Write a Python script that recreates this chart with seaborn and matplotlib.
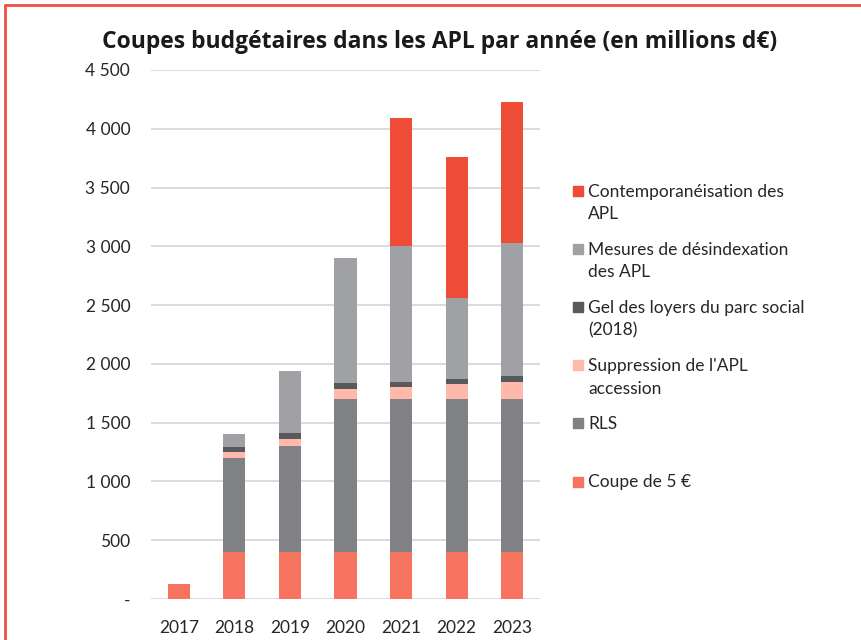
import matplotlib
matplotlib.use("Agg")
import matplotlib.pyplot as plt
import seaborn as sns
import numpy as np
import pandas as pd
from matplotlib.patches import Rectangle
from matplotlib.lines import Line2D

years = ["2017", "2018", "2019", "2020", "2021", "2022", "2023"]
coupe_5 = [125, 400, 400, 400, 400, 400, 400]
rls = [0, 800, 900, 1300, 1300, 1300, 1300]
suppression_accession = [0, 50, 65, 90, 105, 125, 150]
gel_loyers = [0, 45, 50, 45, 45, 45, 45]
desindexation = [0, 105, 525, 1065, 1150, 690, 1135]
contemporaneisation = [0, 0, 0, 0, 1090, 1200, 1200]

series_names = ["Coupe de 5 €", "RLS", "Suppression de l'APL\naccession",
                "Gel des loyers du parc social\n(2018)",
                "Mesures de désindexation\ndes APL",
                "Contemporanéisation des\nAPL"]
series_values = [coupe_5, rls, suppression_accession, gel_loyers,
                 desindexation, contemporaneisation]
colors = ["#F6735F", "#808184", "#FFB9AB", "#58595B", "#A0A1A4", "#EF4C37"]

yticks = [0, 500, 1000, 1500, 2000, 2500, 3000, 3500, 4000, 4500]
ytick_labels = ["-", "500", "1 000", "1 500", "2 000", "2 500", "3 000",
                "3 500", "4 000", "4 500"]

sns.set_theme(style="white")
plt.rcParams['font.family'] = ['Lato', 'DejaVu Sans']

fig = plt.figure(figsize=(8.62, 6.40), dpi=100)
ax = fig.add_axes([151/862, 1-599/640, (540-151)/862, (599-70)/640])

for yv in yticks:
    ax.axhline(yv, color="#d9d9d9", lw=1.3, zorder=0)

bottom = np.zeros(len(years))
for name, vals, c in zip(series_names, series_values, colors):
    df = pd.DataFrame({"year": years, "value": vals})
    sns.barplot(data=df, x="year", y="value", order=years, color=c,
                width=0.4, bottom=bottom.copy(), ax=ax, linewidth=0,
                saturation=1, errorbar=None, zorder=2)
    bottom += np.array(vals, dtype=float)

ax.set_xlim(-0.5, 6.5)
ax.set_ylim(0, 4500)
ax.set_yticks(yticks)
ax.set_yticklabels(ytick_labels)
ax.set_xlabel("")
ax.set_ylabel("")
for s in ax.spines.values():
    s.set_visible(False)
ax.tick_params(axis="both", length=0, labelsize=12.5, colors="#262626")
ax.tick_params(axis="y", pad=15)
ax.tick_params(axis="x", pad=15)

fig.text(440/862, 1-42/640, "Coupes budgétaires dans les APL par année (en millions d€)",
         ha="center", va="center", fontsize=16.5, fontweight="bold",
         family=["Open Sans", "DejaVu Sans"], color="#1a1a1a")

# Legend (top to bottom)
y0 = 190.5
step = 58.2
for i, idx in enumerate(range(len(series_names) - 1, -1, -1)):
    yc = y0 + i * step
    fig.patches.append(Rectangle((573/862, 1-(yc+5)/640), 10/862, 10/640,
                                 transform=fig.transFigure, color=colors[idx],
                                 figure=fig))
    fig.text(588/862, 1-(yc - 7)/640, series_names[idx], ha="left", va="top",
             fontsize=12.5, color="#262626", linespacing=1.5,
             transform=fig.transFigure)

# red frame on top and left
fig.add_artist(Line2D([5/862, 1], [1-4.5/640, 1-4.5/640], color="#EF5040", lw=2,
                      transform=fig.transFigure))
fig.add_artist(Line2D([5.5/862, 5.5/862], [0, 1-4.5/640], color="#EF5040", lw=2,
                      transform=fig.transFigure))

fig.savefig("out.png", dpi=100)
